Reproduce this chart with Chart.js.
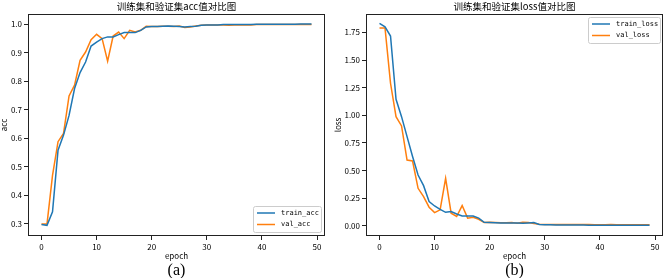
<!DOCTYPE html>
<html>
<head>
<meta charset="utf-8">
<script src="https://cdn.jsdelivr.net/npm/chart.js@4/dist/chart.umd.min.js"></script>
<style>
  body { margin: 0; background: #fff; }
  canvas { position: absolute; top: 0; }
</style>
</head>
<body>
<canvas id="accChart" width="333" height="278" style="left:0"></canvas>
<canvas id="lossChart" width="333" height="278" style="left:333px"></canvas>
<script>
const epochs = [];
for (let i = 0; i < 50; i++) epochs.push(i);

const trainAcc = [0.298, 0.295, 0.342, 0.558, 0.611, 0.680, 0.774, 0.830, 0.867, 0.923,
  0.937, 0.949, 0.955, 0.955, 0.963, 0.970, 0.970, 0.970, 0.978, 0.990,
  0.991, 0.991, 0.992, 0.993, 0.992, 0.991, 0.990, 0.991, 0.992, 0.996,
  0.997, 0.997, 0.997, 0.998, 0.998, 0.998, 0.998, 0.998, 0.998, 0.999,
  0.999, 0.999, 0.999, 0.999, 0.999, 0.999, 0.999, 1.000, 1.000, 1.000];
const valAcc = [0.300, 0.300, 0.470, 0.588, 0.617, 0.748, 0.786, 0.873, 0.902, 0.945,
  0.964, 0.949, 0.870, 0.958, 0.972, 0.949, 0.978, 0.972, 0.978, 0.992,
  0.991, 0.991, 0.992, 0.992, 0.991, 0.993, 0.988, 0.990, 0.993, 0.996,
  0.997, 0.997, 0.997, 0.997, 0.996, 0.997, 0.997, 0.997, 0.997, 0.998,
  0.998, 0.998, 0.998, 0.998, 0.998, 0.998, 0.998, 0.998, 0.998, 0.998];

const trainLoss = [1.831, 1.800, 1.717, 1.145, 0.988, 0.807, 0.627, 0.460, 0.364, 0.220,
  0.180, 0.150, 0.123, 0.130, 0.108, 0.090, 0.090, 0.090, 0.070, 0.033,
  0.030, 0.028, 0.027, 0.027, 0.026, 0.026, 0.025, 0.027, 0.030, 0.012,
  0.010, 0.010, 0.009, 0.009, 0.008, 0.008, 0.008, 0.008, 0.007, 0.007,
  0.007, 0.006, 0.006, 0.006, 0.006, 0.006, 0.005, 0.005, 0.005, 0.005];
const valLoss = [1.790, 1.790, 1.290, 0.988, 0.904, 0.596, 0.587, 0.340, 0.265, 0.169,
  0.120, 0.145, 0.430, 0.115, 0.085, 0.184, 0.070, 0.078, 0.060, 0.030,
  0.032, 0.030, 0.028, 0.028, 0.030, 0.025, 0.033, 0.030, 0.022, 0.015,
  0.013, 0.013, 0.013, 0.012, 0.012, 0.013, 0.012, 0.012, 0.012, 0.011,
  0.011, 0.011, 0.012, 0.011, 0.011, 0.011, 0.011, 0.011, 0.011, 0.011];

const xTicks = [0, 10, 20, 30, 40, 50];
const accTicks = [0.3, 0.4, 0.5, 0.6, 0.7, 0.8, 0.9, 1.0];
const lossTicks = [0, 0.25, 0.5, 0.75, 1.0, 1.25, 1.5, 1.75];

const BLUE = '#1f77b4';
const ORANGE = '#ff7f0e';
const FONT = '"Noto Sans CJK SC", "DejaVu Sans", sans-serif';

// titles, axis labels, frame, legend box
const decor = {
  id: 'decor',
  afterDraw(chart, args, o) {
    const ctx = chart.ctx;
    const a = chart.chartArea;
    const cx = (a.left + a.right) / 2;
    ctx.save();
    ctx.strokeStyle = '#222';
    ctx.lineWidth = 1;
    ctx.strokeRect(a.left + 0.5, a.top + 0.5, a.right - a.left - 1, a.bottom - a.top - 1);

    ctx.fillStyle = '#000';
    ctx.textAlign = 'center';
    ctx.textBaseline = 'middle';
    ctx.font = '9.5px ' + FONT;
    ctx.fillText(o.title, cx, 6);
    ctx.font = '8px ' + FONT;
    ctx.fillText('epoch', cx, 256);
    ctx.font = '16px "Liberation Serif", serif';
    ctx.fillText(o.tag, cx, 271);
    ctx.save();
    ctx.translate(o.ylabelX, (a.top + a.bottom) / 2);
    ctx.rotate(-Math.PI / 2);
    ctx.font = '8px ' + FONT;
    ctx.fillText(o.ylabel, 0, 0);
    ctx.restore();

    // legend
    const L = o.legend;
    ctx.beginPath();
    ctx.roundRect(L.x + 0.5, L.y + 0.5, L.w, L.h, 2);
    ctx.fillStyle = 'rgba(255,255,255,0.8)';
    ctx.fill();
    ctx.strokeStyle = '#cccccc';
    ctx.stroke();
    ctx.textAlign = 'left';
    ctx.font = '7px "DejaVu Sans Mono", monospace';
    chart.data.datasets.forEach((ds, i) => {
      const y = L.y + 7 + i * 11.5;
      ctx.strokeStyle = ds.borderColor;
      ctx.lineWidth = 1.5;
      ctx.beginPath();
      ctx.moveTo(L.x + 4, y);
      ctx.lineTo(L.x + 22, y);
      ctx.stroke();
      ctx.fillStyle = '#000';
      ctx.fillText(ds.label, L.x + 28, y);
    });
    ctx.restore();
  }
};

function makeChart(id, labelA, dataA, labelB, dataB, yMin, yMax, yTicks, yDigits, yWidth, padRight, deco) {
  return new Chart(document.getElementById(id), {
    type: 'line',
    data: {
      datasets: [
        { label: labelA, data: epochs.map((e, i) => ({ x: e, y: dataA[i] })), borderColor: BLUE, borderWidth: 1.5, pointRadius: 0, fill: false, tension: 0 },
        { label: labelB, data: epochs.map((e, i) => ({ x: e, y: dataB[i] })), borderColor: ORANGE, borderWidth: 1.5, pointRadius: 0, fill: false, tension: 0 }
      ]
    },
    options: {
      responsive: false,
      animation: false,
      layout: { padding: { top: 14, right: padRight, left: 0, bottom: 0 } },
      plugins: { legend: { display: false }, tooltip: { enabled: false }, decor: deco },
      scales: {
        x: {
          type: 'linear',
          min: -2.45,
          max: 51.45,
          afterBuildTicks: (s) => { s.ticks = xTicks.map(v => ({ value: v })); },
          afterFit: (s) => { s.height = 42; },
          grid: { drawOnChartArea: false, drawTicks: true, tickLength: 4, color: '#222' },
          border: { display: false },
          ticks: { color: '#000', font: { size: 8, family: FONT }, padding: 2, maxRotation: 0 }
        },
        y: {
          min: yMin,
          max: yMax,
          afterBuildTicks: (s) => { s.ticks = yTicks.map(v => ({ value: v })); },
          afterFit: (s) => { s.width = yWidth; },
          grid: { drawOnChartArea: false, drawTicks: true, tickLength: 4, color: '#222' },
          border: { display: false },
          ticks: { color: '#000', font: { size: 8, family: FONT }, padding: 2, callback: (v) => v.toFixed(yDigits) }
        }
      }
    },
    plugins: [decor]
  });
}

makeChart('accChart', 'train_acc', trainAcc, 'val_acc', valAcc,
  0.2576, 1.0352, accTicks, 1, 28, 8,
  { title: '训练集和验证集acc值对比图', tag: '(a)', ylabel: 'acc', ylabelX: 4,
    legend: { x: 253, y: 206, w: 68, h: 26 } });

makeChart('lossChart', 'train_loss', trainLoss, 'val_loss', valLoss,
  -0.0913, 1.9163, lossTicks, 2, 33, 3,
  { title: '训练集和验证集loss值对比图', tag: '(b)', ylabel: 'loss', ylabelX: 5,
    legend: { x: 255, y: 17, w: 72, h: 26 } });
</script>
</body>
</html>
